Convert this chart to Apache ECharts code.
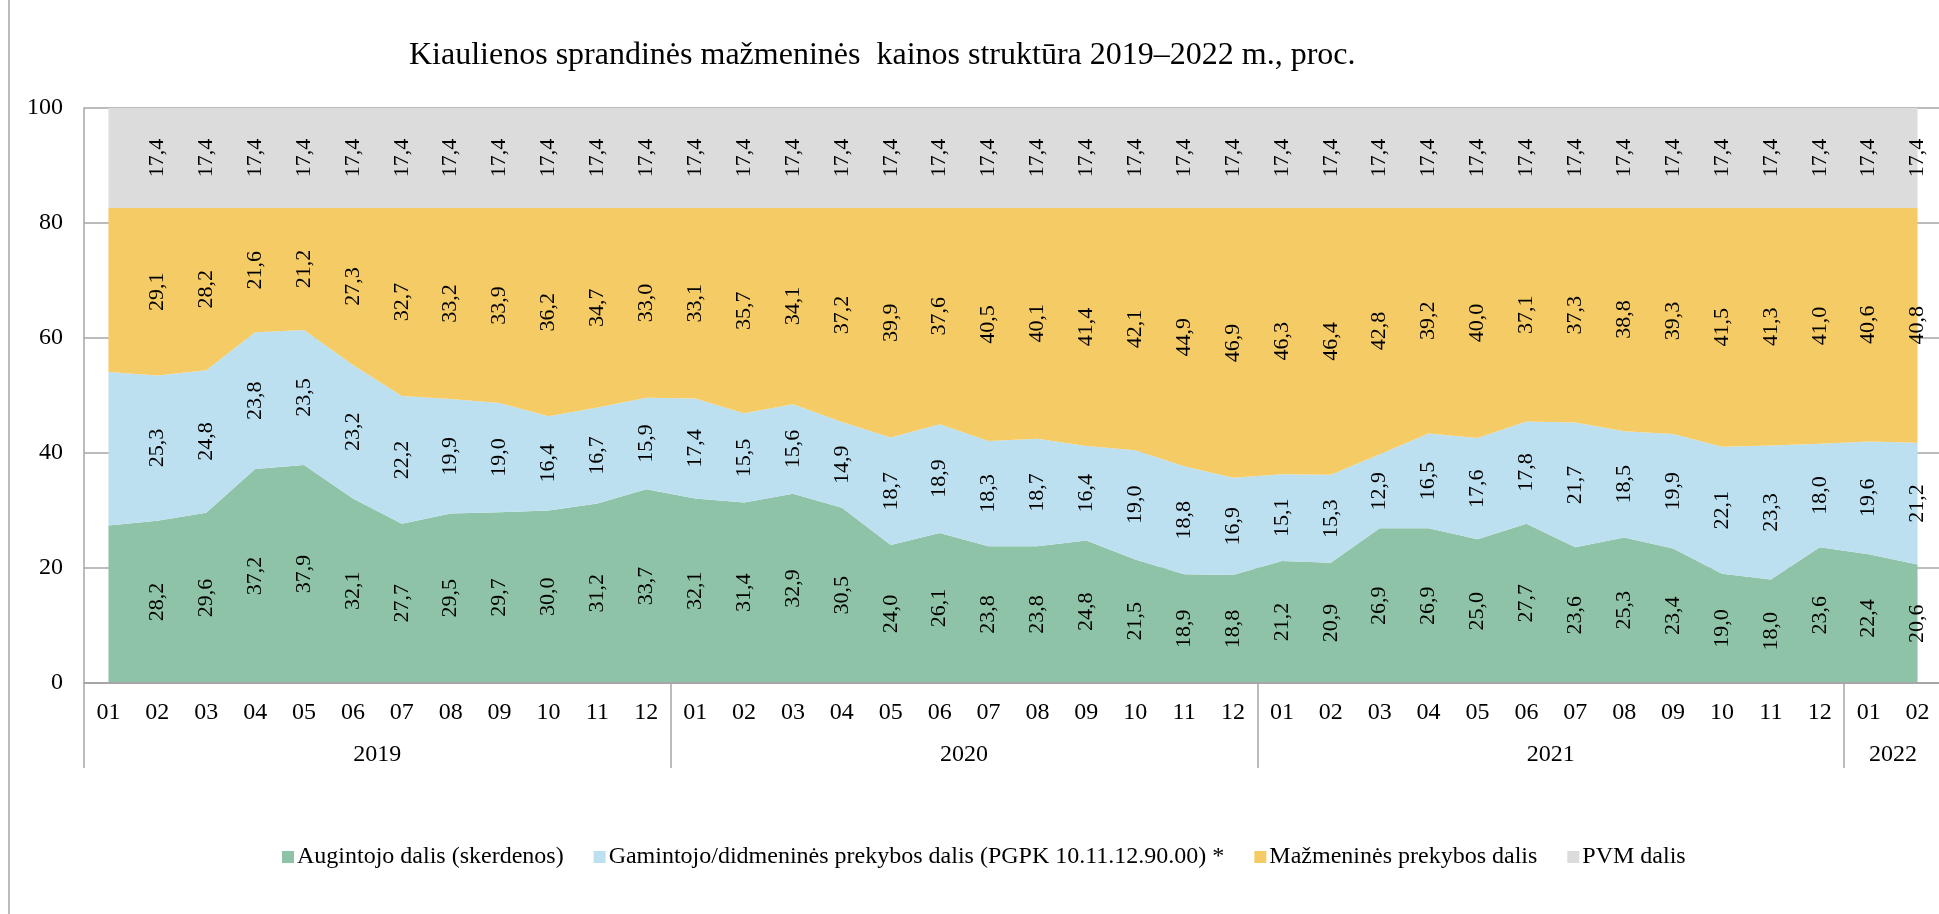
<!DOCTYPE html>
<html>
<head>
<meta charset="utf-8">
<script src="https://cdn.jsdelivr.net/npm/echarts@6/dist/echarts.min.js"></script>
<style>
    html, body { margin: 0; padding: 0; background: #fff; }
    #chart { width: 1939px; height: 914px; }
</style>
</head>
<body>
<div id="chart"></div>
<script>
// mėnesiai ir metai
var months = ['01','02','03','04','05','06','07','08','09','10','11','12',
              '01','02','03','04','05','06','07','08','09','10','11','12',
              '01','02','03','04','05','06','07','08','09','10','11','12',
              '01','02'];
var years = ['2019', '2020', '2021', '2022'];
var monthsPerYear = [12, 12, 12, 2];

// dalys, proc.
var augintojo = [27.4, 28.2, 29.6, 37.2, 37.9, 32.1, 27.7, 29.5, 29.7, 30.0, 31.2, 33.7,
                 32.1, 31.4, 32.9, 30.5, 24.0, 26.1, 23.8, 23.8, 24.8, 21.5, 18.9, 18.8,
                 21.2, 20.9, 26.9, 26.9, 25.0, 27.7, 23.6, 25.3, 23.4, 19.0, 18.0, 23.6,
                 22.4, 20.6];
var gamintojo = [26.7, 25.3, 24.8, 23.8, 23.5, 23.2, 22.2, 19.9, 19.0, 16.4, 16.7, 15.9,
                 17.4, 15.5, 15.6, 14.9, 18.7, 18.9, 18.3, 18.7, 16.4, 19.0, 18.8, 16.9,
                 15.1, 15.3, 12.9, 16.5, 17.6, 17.8, 21.7, 18.5, 19.9, 22.1, 23.3, 18.0,
                 19.6, 21.2];
var mazmenines = [28.5, 29.1, 28.2, 21.6, 21.2, 27.3, 32.7, 33.2, 33.9, 36.2, 34.7, 33.0,
                  33.1, 35.7, 34.1, 37.2, 39.9, 37.6, 40.5, 40.1, 41.4, 42.1, 44.9, 46.9,
                  46.3, 46.4, 42.8, 39.2, 40.0, 37.1, 37.3, 38.8, 39.3, 41.5, 41.3, 41.0,
                  40.6, 40.8];
var pvm = [17.4, 17.4, 17.4, 17.4, 17.4, 17.4, 17.4, 17.4, 17.4, 17.4, 17.4, 17.4,
           17.4, 17.4, 17.4, 17.4, 17.4, 17.4, 17.4, 17.4, 17.4, 17.4, 17.4, 17.4,
           17.4, 17.4, 17.4, 17.4, 17.4, 17.4, 17.4, 17.4, 17.4, 17.4, 17.4, 17.4,
           17.4, 17.4];

var names = ['Augintojo dalis (skerdenos)',
             'Gamintojo/didmeninės prekybos dalis (PGPK 10.11.12.90.00) *',
             'Mažmeninės prekybos dalis',
             'PVM dalis'];
var colors = ['#8fc3a7', '#bde0f0', '#f5cb66', '#dcdcdc'];
var values = [augintojo, gamintojo, mazmenines, pvm];

// metų ribos ir vidurys
var yearBounds = [0];
var yearCenters = [];
monthsPerYear.forEach(function (n, i) {
    yearCenters.push(yearBounds[i] + n / 2);
    yearBounds.push(yearBounds[i] + n);
});

var font = 'Liberation Serif, Times New Roman, serif';
var gray = '#a6a6a6';

var series = [];
values.forEach(function (v, i) {
    series.push({
        name: names[i],
        type: 'line',
        stack: 'area',
        data: v,
        symbol: 'none',
        lineStyle: { width: 0 },
        itemStyle: { color: colors[i] },
        areaStyle: { color: colors[i], opacity: 1 },
        z: 2
    });
});
values.forEach(function (v, i) {
    series.push({
        name: 'lbl' + i,
        type: 'bar',
        stack: 'lbl',
        data: v,
        barWidth: '60%',
        itemStyle: { color: 'rgba(0,0,0,0)' },
        label: {
            show: true,
            position: 'inside',
            rotate: 90,
            color: '#000',
            fontFamily: font,
            fontSize: 22,
            formatter: function (p) {
                if (p.dataIndex === 0) return '';
                return p.value.toFixed(1).replace('.', ',');
            }
        },
        z: 3
    });
});

var myChart = echarts.init(document.getElementById('chart'));
myChart.setOption({
    animation: false,
    backgroundColor: '#fff',
    title: {
        text: 'Kiaulienos sprandinės mažmeninės  kainos struktūra 2019–2022 m., proc.',
        left: 404,
        top: 35,
        textStyle: {
            fontFamily: font,
            fontSize: 32,
            fontWeight: 'normal',
            color: '#000'
        }
    },
    legend: {
        data: names,
        left: 277,
        top: 840,
        icon: 'rect',
        itemWidth: 12,
        itemHeight: 12,
        itemGap: 30,
        textStyle: { fontFamily: font, fontSize: 24, color: '#000', padding: [0, 0, 0, -2] }
    },
    grid: {
        left: 84,
        right: -3,
        top: 108,
        bottom: 231,
        outerBoundsMode: 'none'
    },
    xAxis: [{
        type: 'category',
        data: months,
        boundaryGap: true,
        axisLine: { lineStyle: { color: gray, width: 2 } },
        axisTick: { show: false },
        axisLabel: {
            color: '#000',
            fontFamily: font,
            fontSize: 24,
            margin: 18,
            interval: 0
        },
        z: 5
    }, {
        type: 'value',
        position: 'bottom',
        min: 0,
        max: months.length,
        axisLine: { show: false },
        splitLine: { show: false },
        axisTick: {
            show: true,
            customValues: yearBounds,
            length: 85,
            lineStyle: { color: gray, width: 1.5 }
        },
        axisLabel: {
            show: true,
            customValues: yearCenters,
            color: '#000',
            fontFamily: font,
            fontSize: 24,
            margin: 60,
            formatter: function (v) {
                var i = yearCenters.indexOf(v);
                return i >= 0 ? years[i] : '';
            }
        }
    }],
    yAxis: {
        type: 'value',
        min: 0,
        max: 100,
        interval: 20,
        axisLine: { show: true, lineStyle: { color: gray, width: 1.5 } },
        axisTick: { show: false },
        splitLine: { show: true, lineStyle: { color: gray, width: 1.5 } },
        axisLabel: {
            color: '#000',
            fontFamily: font,
            fontSize: 24,
            margin: 21
        }
    },
    graphic: [{
        type: 'line',
        shape: { x1: 9, y1: 0, x2: 9, y2: 914 },
        style: { stroke: gray, lineWidth: 1.5 }
    }],
    series: series
});
</script>
</body>
</html>
